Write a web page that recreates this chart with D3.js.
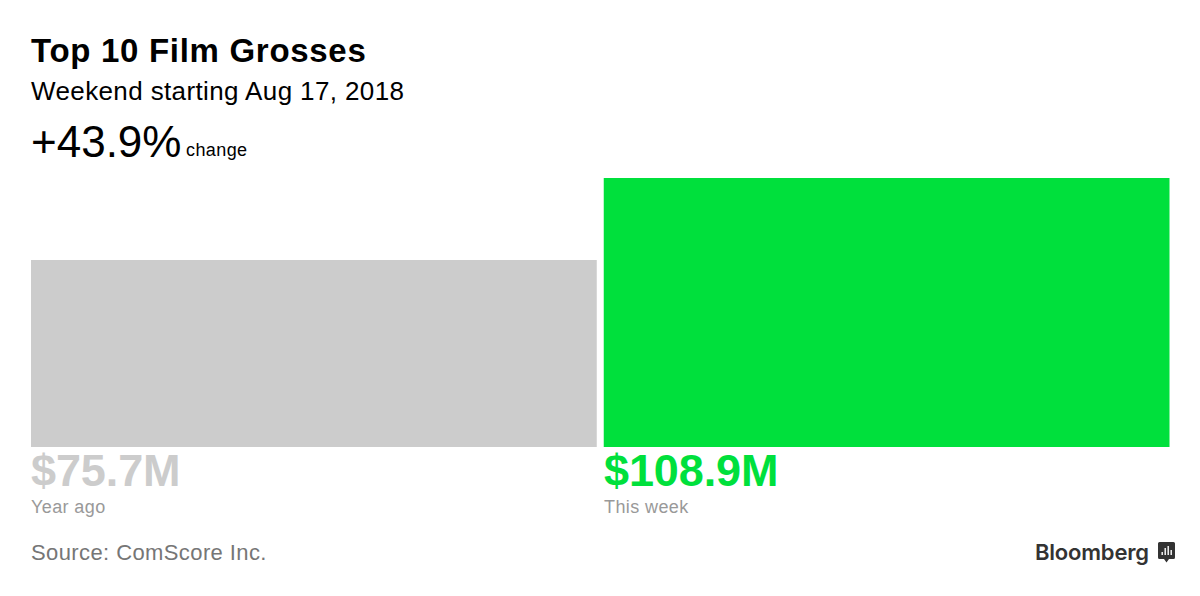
<!DOCTYPE html>
<html>
<head>
<meta charset="utf-8">
<script src="https://cdn.jsdelivr.net/npm/d3@7"></script>
<style>
  body { margin: 0; background: #fff; }
  text { font-family: "Liberation Sans", Arial, sans-serif; }
</style>
</head>
<body>
<div id="chart"></div>
<script>
var categories = ["Year ago", "This week"];
var grosses = [75.7, 108.9];
var valueLabels = ["$75.7M", "$108.9M"];
var barColors = ["#cccccc", "#00e03c"];

var width = 1200, height = 596;

var svg = d3.select("#chart").append("svg")
  .attr("width", width)
  .attr("height", height)
  .style("display", "block");

var x_scale = d3.scaleBand()
  .domain(categories)
  .range([31, 1169.5])
  .paddingInner(0.0122);

var y_scale = d3.scaleLinear()
  .domain([0, 108.9])
  .range([447, 178]);

function label(x, y, str, size, color, weight, spacing, family) {
  return svg.append("text")
    .attr("x", x).attr("y", y)
    .attr("font-size", size)
    .attr("font-weight", weight || "normal")
    .attr("letter-spacing", spacing || 0)
    .attr("fill", color)
    .style("font-family", family || null)
    .text(str);
}

// header
label(31, 62, "Top 10 Film Grosses", 33, "#000", "bold", 0.7);
label(31, 100, "Weekend starting Aug 17, 2018", 26, "#000", "normal", 0.38);
label(31, 157, "+43.9%", 44, "#000", "normal", 0);
label(186, 156, "change", 18, "#000", "normal", 0.4);

// bars
svg.selectAll("rect.bar")
  .data(categories)
  .enter().append("rect")
  .attr("class", "bar")
  .attr("x", function(d) { return x_scale(d); })
  .attr("y", function(d, i) { return y_scale(grosses[i]); })
  .attr("width", x_scale.bandwidth())
  .attr("height", function(d, i) { return y_scale(0) - y_scale(grosses[i]); })
  .attr("fill", function(d, i) { return barColors[i]; });

categories.forEach(function(c, i) {
  label(Math.round(x_scale(c)), 486, valueLabels[i], 45, barColors[i], "bold", -0.1);
  label(Math.round(x_scale(c)), 513, c, 18, "#999999", "normal", 0.4);
});

// footer
label(31, 560, "Source: ComScore Inc.", 22, "#767676", "normal", 0.4);
label(1035, 560, "Bloomberg", 22, "#333333", "600", -0.2, "Inter");

// logo mark
var mark = svg.append("g").attr("transform", "translate(1158,542)");
mark.append("path")
  .attr("d", "M1.5 0H15.5Q17 0 17 1.5V15.5Q17 17 15.5 17H11L8.5 20.5L6 17H1.5Q0 17 0 15.5V1.5Q0 0 1.5 0Z")
  .attr("fill", "#333333");
[[3.5, 10, 3], [6.5, 6, 7], [9.5, 4, 9], [12.5, 8, 5]].forEach(function(b) {
  mark.append("rect")
    .attr("x", b[0]).attr("y", b[1])
    .attr("width", 1.4).attr("height", b[2])
    .attr("fill", "#fff");
});
</script>
</body>
</html>
